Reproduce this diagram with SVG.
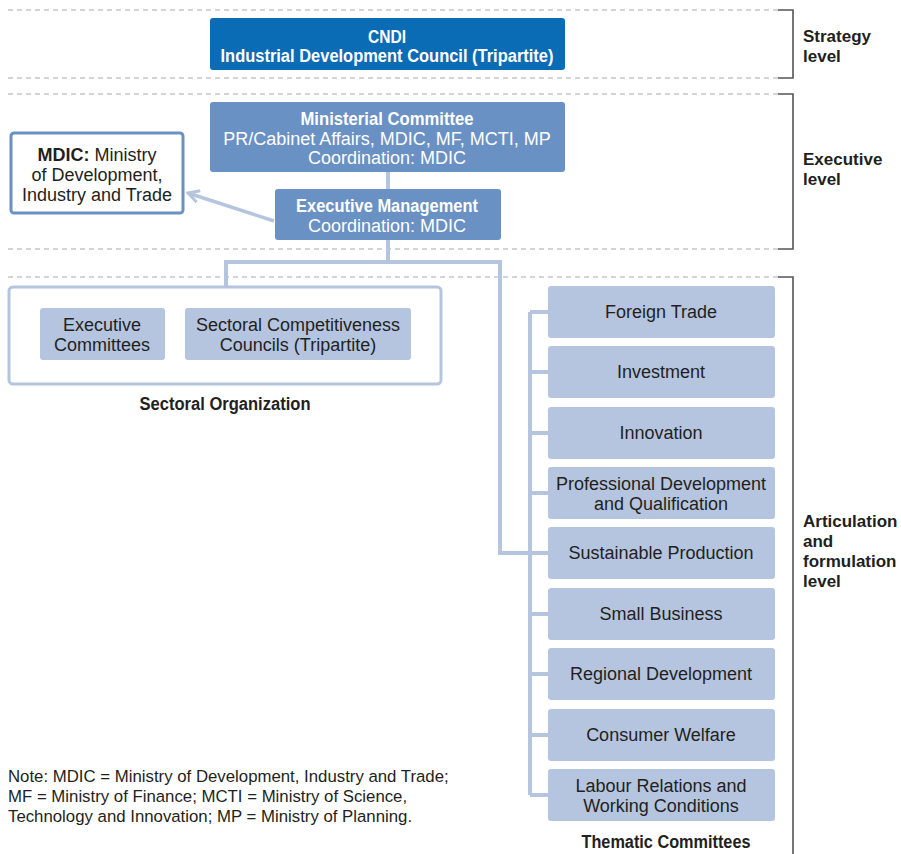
<svg xmlns="http://www.w3.org/2000/svg" width="901" height="854" viewBox="0 0 901 854">
<style>
text{font-family:"Liberation Sans",Arial,sans-serif;fill:#231f20}
.b{font-weight:bold}
.w{fill:#fff}
.r{font-size:18px}
.h{font-size:18px;font-weight:bold}
.lv{font-size:17px;font-weight:bold}
.dash{stroke:#aaa;stroke-width:1.2;stroke-dasharray:5 4;fill:none}
.brk{stroke:#555;stroke-width:1.6;fill:none}
.con{stroke:#b5c5df;stroke-width:4;fill:none}
.dk{fill:#0a6cb5}
.md{fill:#6a91c4}
.lt{fill:#b5c5df}
</style>
<defs>
<marker id="arr" viewBox="0 0 14 14" refX="12" refY="7" markerWidth="14" markerHeight="14" markerUnits="userSpaceOnUse" orient="auto">
<polyline points="1,1 12,7 1,13" fill="none" stroke="#b5c5df" stroke-width="3"/>
</marker>
</defs>
<rect width="901" height="854" fill="#fff"/>
<g id="levels">
<line class="dash" x1="8" y1="10" x2="778" y2="10"/>
<line class="dash" x1="8" y1="78" x2="778" y2="78"/>
<line class="dash" x1="8" y1="94" x2="778" y2="94"/>
<line class="dash" x1="8" y1="249" x2="778" y2="249"/>
<line class="dash" x1="8" y1="277" x2="778" y2="277"/>
<polyline class="brk" points="778,10 793,10 793,78 778,78"/>
<polyline class="brk" points="778,94 793,94 793,249 778,249"/>
<polyline class="brk" points="778,277 793,277 793,854"/>
<text class="lv" x="803" y="42">Strategy</text>
<text class="lv" x="803" y="62">level</text>
<text class="lv" x="803" y="165">Executive</text>
<text class="lv" x="803" y="185">level</text>
<text class="lv" x="803" y="527">Articulation</text>
<text class="lv" x="803" y="547">and</text>
<text class="lv" x="803" y="567">formulation</text>
<text class="lv" x="803" y="587">level</text>
</g>
<g id="connectors">
<line class="con" x1="388" y1="172" x2="388" y2="189"/>
<polyline class="con" points="388,240 388,262"/>
<polyline class="con" points="226,286 226,262 500,262 500,553 548,553"/>
<line class="con" x1="165" y1="334" x2="185" y2="334"/>
<line class="con" x1="530" y1="312" x2="530" y2="795"/>
<line class="con" x1="530" y1="312" x2="548" y2="312"/>
<line class="con" x1="530" y1="372" x2="548" y2="372"/>
<line class="con" x1="530" y1="433" x2="548" y2="433"/>
<line class="con" x1="530" y1="493" x2="548" y2="493"/>
<line class="con" x1="530" y1="614" x2="548" y2="614"/>
<line class="con" x1="530" y1="674" x2="548" y2="674"/>
<line class="con" x1="530" y1="735" x2="548" y2="735"/>
<line class="con" x1="530" y1="795" x2="548" y2="795"/>
</g>
<g id="cndi">
<rect class="dk" x="210" y="18" width="355" height="52" rx="3"/>
<text class="h w" x="387" y="43" text-anchor="middle" textLength="38" lengthAdjust="spacingAndGlyphs">CNDI</text>
<text class="h w" x="387" y="62" text-anchor="middle" textLength="333" lengthAdjust="spacingAndGlyphs">Industrial Development Council (Tripartite)</text>
</g>
<g id="ministerial">
<rect class="md" x="210" y="102" width="355" height="70" rx="3"/>
<text class="h w" x="387" y="125" text-anchor="middle" textLength="173" lengthAdjust="spacingAndGlyphs">Ministerial Committee</text>
<text class="r w" x="387" y="145" text-anchor="middle">PR/Cabinet Affairs, MDIC, MF, MCTI, MP</text>
<text class="r w" x="387" y="164" text-anchor="middle">Coordination: MDIC</text>
</g>
<g id="executive-management">
<rect class="md" x="275" y="189" width="226" height="51" rx="3"/>
<text class="h w" x="387" y="212" text-anchor="middle" textLength="182" lengthAdjust="spacingAndGlyphs">Executive Management</text>
<text class="r w" x="387" y="232" text-anchor="middle">Coordination: MDIC</text>
</g>
<g id="mdic">
<rect x="11" y="133" width="172" height="80" rx="3" fill="#fff" stroke="#6a91c4" stroke-width="3"/>
<text class="r" x="97" y="161" text-anchor="middle"><tspan class="b">MDIC:</tspan> Ministry</text>
<text class="r" x="97" y="181" text-anchor="middle">of Development,</text>
<text class="r" x="97" y="201" text-anchor="middle">Industry and Trade</text>
</g>
<g id="arrow-mdic">
<line x1="274" y1="221" x2="188" y2="193" stroke="#b5c5df" stroke-width="3.5" marker-end="url(#arr)"/>
</g>
<g id="sectoral-organization">
<rect x="9" y="287" width="432" height="97" rx="4" fill="#fff" stroke="#b5c5df" stroke-width="3"/>
<text class="h" x="225" y="410" text-anchor="middle" textLength="171" lengthAdjust="spacingAndGlyphs">Sectoral Organization</text>
</g>
<g id="executive-committees">
<rect class="lt" x="40" y="308" width="125" height="52" rx="3"/>
<text class="r" x="102" y="331" text-anchor="middle">Executive</text>
<text class="r" x="102" y="351" text-anchor="middle">Committees</text>
</g>
<g id="sectoral-councils">
<rect class="lt" x="185" y="308" width="226" height="52" rx="3"/>
<text class="r" x="298" y="331" text-anchor="middle">Sectoral Competitiveness</text>
<text class="r" x="298" y="351" text-anchor="middle">Councils (Tripartite)</text>
</g>
<g id="foreign-trade">
<rect class="lt" x="548" y="286" width="227" height="52" rx="3"/>
<text class="r" x="661" y="318" text-anchor="middle">Foreign Trade</text>
</g>
<g id="investment">
<rect class="lt" x="548" y="346" width="227" height="52" rx="3"/>
<text class="r" x="661" y="378" text-anchor="middle">Investment</text>
</g>
<g id="innovation">
<rect class="lt" x="548" y="407" width="227" height="52" rx="3"/>
<text class="r" x="661" y="439" text-anchor="middle">Innovation</text>
</g>
<g id="professional-development">
<rect class="lt" x="548" y="467" width="227" height="52" rx="3"/>
<text class="r" x="661" y="490" text-anchor="middle">Professional Development</text>
<text class="r" x="661" y="510" text-anchor="middle">and Qualification</text>
</g>
<g id="sustainable-production">
<rect class="lt" x="548" y="527" width="227" height="52" rx="3"/>
<text class="r" x="661" y="559" text-anchor="middle">Sustainable Production</text>
</g>
<g id="small-business">
<rect class="lt" x="548" y="588" width="227" height="52" rx="3"/>
<text class="r" x="661" y="620" text-anchor="middle">Small Business</text>
</g>
<g id="regional-development">
<rect class="lt" x="548" y="648" width="227" height="52" rx="3"/>
<text class="r" x="661" y="680" text-anchor="middle">Regional Development</text>
</g>
<g id="consumer-welfare">
<rect class="lt" x="548" y="709" width="227" height="52" rx="3"/>
<text class="r" x="661" y="741" text-anchor="middle">Consumer Welfare</text>
</g>
<g id="labour-relations">
<rect class="lt" x="548" y="769" width="227" height="52" rx="3"/>
<text class="r" x="661" y="792" text-anchor="middle">Labour Relations and</text>
<text class="r" x="661" y="812" text-anchor="middle">Working Conditions</text>
</g>
<text class="h" x="666" y="848" text-anchor="middle" textLength="169" lengthAdjust="spacingAndGlyphs">Thematic Committees</text>
<g id="note" font-size="16.8">
<text x="8" y="782">Note: MDIC = Ministry of Development, Industry and Trade;</text>
<text x="8" y="802">MF = Ministry of Finance; MCTI = Ministry of Science,</text>
<text x="8" y="822">Technology and Innovation; MP = Ministry of Planning.</text>
</g>
</svg>
